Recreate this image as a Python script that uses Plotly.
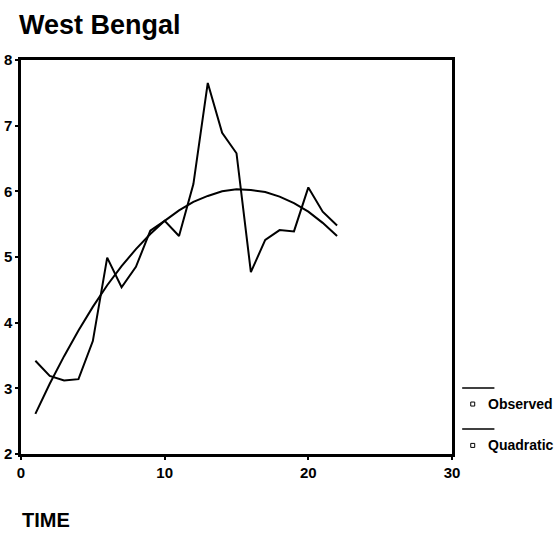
import plotly.graph_objects as go

# Time index and series values
time = list(range(1, 23))
observed = [3.42, 3.19, 3.12, 3.14, 3.72, 4.99, 4.54, 4.85, 5.40, 5.55, 5.32,
            6.11, 7.65, 6.89, 6.58, 4.77, 5.26, 5.41, 5.39, 6.06, 5.69, 5.48]
quadratic = [2.61, 3.07, 3.49, 3.88, 4.24, 4.57, 4.86, 5.12, 5.35, 5.55, 5.71,
             5.84, 5.93, 6.00, 6.03, 6.02, 5.99, 5.92, 5.82, 5.69, 5.52, 5.32]
series_names = ["Observed", "Quadratic"]
x_ticks = [0, 10, 20, 30]
y_ticks = [2, 3, 4, 5, 6, 7, 8]

FONT = "Liberation Sans, Arial, sans-serif"

fig = go.Figure()
fig.add_trace(go.Scatter(x=time, y=observed, mode="lines", name=series_names[0],
                         line=dict(color="black", width=2), showlegend=False))
fig.add_trace(go.Scatter(x=time, y=quadratic, mode="lines", name=series_names[1],
                         line=dict(color="black", width=2), showlegend=False))

axis_common = dict(
    showgrid=False, zeroline=False, showline=True, mirror=True,
    linecolor="black", linewidth=2.5, automargin=False,
    ticks="outside", ticklen=3, tickwidth=2, tickcolor="black",
    tickfont=dict(family=FONT, size=15, color="black", weight="bold"),
)

fig.update_xaxes(range=[0, 30], tickvals=x_ticks, **axis_common)
fig.update_yaxes(range=[2, 8], tickvals=y_ticks, ticklabelstandoff=0, **axis_common)

# Hand-drawn legend: a line above each entry, then a small square and label
shapes = []
annotations = []
legend_rows = [(0.1674, 0.1268), (0.0634, 0.0218)]
for name, (ly, ty) in zip(series_names, legend_rows):
    shapes.append(dict(type="line", xref="paper", yref="paper",
                       x0=1.0236, x1=1.0984, y0=ly, y1=ly,
                       line=dict(color="black", width=1.5)))
    shapes.append(dict(type="rect", xref="paper", yref="paper",
                       x0=1.0435, x1=1.0527, y0=ty - 0.0051, y1=ty + 0.0051,
                       line=dict(color="black", width=1), fillcolor="white"))
    annotations.append(dict(text=name, xref="paper", yref="paper",
                            x=1.078, y=ty, xanchor="left", yanchor="middle",
                            showarrow=False,
                            font=dict(family=FONT, size=14, color="black", weight="bold")))

annotations.append(dict(text="TIME", xref="paper", yref="paper",
                        x=-0.003, y=-0.168, xanchor="left", yanchor="middle",
                        showarrow=False,
                        font=dict(family=FONT, size=20, color="black", weight="bold")))

fig.update_layout(
    width=556, height=534,
    margin=dict(l=20.5, r=103.5, t=60, b=79.7),
    paper_bgcolor="white", plot_bgcolor="white",
    title=dict(text="West Bengal", xref="container", yref="container",
               x=19 / 556, xanchor="left", y=1 - 25 / 534, yanchor="middle",
               font=dict(family=FONT, size=27, color="black", weight="bold")),
    shapes=shapes, annotations=annotations,
    showlegend=False,
)

fig.write_html("out.html")
